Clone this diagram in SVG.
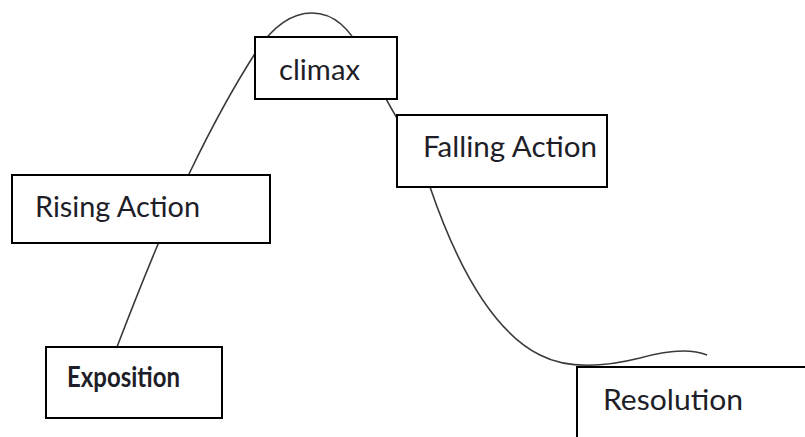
<svg xmlns="http://www.w3.org/2000/svg" width="805" height="437" viewBox="0 0 805 437">
<style>
.box{fill:#fff;stroke:#000;stroke-width:2}
.lbl{font-family:Lato,"Open Sans","Liberation Sans",sans-serif;font-size:28px;fill:#1e1e28}
.curve{fill:none;stroke:#3a3a3a;stroke-width:1.6}
</style>
<rect width="805" height="437" fill="#fff"/>
<g id="connectors">
<path class="curve" d="M117,347 C135,300 160,235 190,172 C215,120 238,80 256,52 C273,26 292,13 312,13 C335,13 350,30 362,52 C373,73 384,97 397,118 L430,187 C455,260 490,330 540,355 C565,368 600,368 640,358 C672,349 692,349 707,355"/>
</g>
<g id="climax">
<rect class="box" x="255" y="37" width="142" height="62"/>
<text class="lbl" x="279" y="80" textLength="81" lengthAdjust="spacingAndGlyphs">climax</text>
</g>
<g id="falling-action">
<rect class="box" x="397" y="115" width="210" height="72"/>
<text class="lbl" x="423" y="157" textLength="174" lengthAdjust="spacingAndGlyphs">Falling Action</text>
</g>
<g id="rising-action">
<rect class="box" x="12" y="175" width="258" height="68"/>
<text class="lbl" x="35" y="217" textLength="165" lengthAdjust="spacingAndGlyphs">Rising Action</text>
</g>
<g id="exposition">
<rect class="box" x="46" y="347" width="176" height="71"/>
<text class="lbl" x="67" y="387" font-weight="bold" font-size="24" textLength="113" lengthAdjust="spacingAndGlyphs">Exposition</text>
</g>
<g id="resolution">
<rect class="box" x="577" y="367" width="260" height="90"/>
<text class="lbl" x="603" y="410" textLength="140" lengthAdjust="spacingAndGlyphs">Resolution</text>
</g>
</svg>
